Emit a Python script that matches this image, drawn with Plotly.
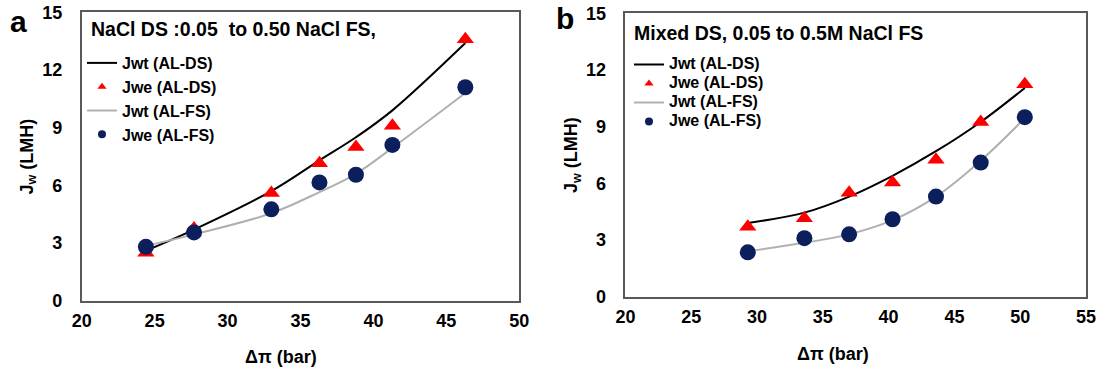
import plotly.graph_objects as go

# ---- data ----
# Panel a: NaCl DS
a_dpi = [24.4, 27.7, 33.0, 36.3, 38.8, 41.3, 46.3]
a_jwe_ds = [2.5, 3.75, 5.6, 7.15, 8.0, 9.1, 13.6]
a_jwe_fs = [2.8, 3.55, 4.75, 6.15, 6.55, 8.1, 11.1]
a_jwt_ds = [2.6, 3.7, 5.7, 7.3, 8.5, 9.9, 13.4]
a_jwt_fs = [2.85, 3.45, 4.55, 5.65, 6.6, 7.95, 10.8]

# Panel b: Mixed DS
b_dpi = [29.3, 33.6, 37.0, 40.3, 43.6, 47.0, 50.35]
b_jwe_ds = [3.7, 4.15, 5.5, 6.05, 7.25, 9.25, 11.25]
b_jwe_fs = [2.35, 3.1, 3.3, 4.1, 5.3, 7.1, 9.5]
b_jwt_ds = [3.9, 4.45, 5.3, 6.4, 7.7, 9.25, 11.05]
b_jwt_fs = [2.4, 2.85, 3.3, 4.05, 5.3, 7.2, 9.45]

names = ["Jwt (AL-DS)", "Jwe (AL-DS)", "Jwt (AL-FS)", "Jwe (AL-FS)"]
x_ticks_a = [20, 25, 30, 35, 40, 45, 50]
x_ticks_b = [20, 25, 30, 35, 40, 45, 50, 55]
y_ticks = [0, 3, 6, 9, 12, 15]

FONT = "Liberation Sans, Arial, sans-serif"
RED = "#ff0000"
NAVY = "#0b1f5c"
GRAY = "#b0b0b0"

fig = go.Figure()

def add_panel(xv, jwt_ds, jwe_ds, jwt_fs, jwe_fs, xa, ya, leg, label_fmt):
    lab = [label_fmt.format(n) for n in names]
    fig.add_trace(go.Scatter(x=xv, y=jwt_ds, mode="lines", name=lab[0],
                             line=dict(color="black", width=2, shape="spline"),
                             xaxis=xa, yaxis=ya, legend=leg, showlegend=True))
    fig.add_trace(go.Scatter(x=xv, y=jwe_ds, mode="markers", name=lab[1],
                             marker=dict(symbol="triangle-up", color=RED, size=15),
                             xaxis=xa, yaxis=ya, showlegend=False))
    fig.add_trace(go.Scatter(x=[None], y=[None], mode="markers", name=lab[1],
                             marker=dict(symbol="triangle-up", color=RED, size=8),
                             xaxis=xa, yaxis=ya, legend=leg, showlegend=True))
    fig.add_trace(go.Scatter(x=xv, y=jwt_fs, mode="lines", name=lab[2],
                             line=dict(color=GRAY, width=2, shape="spline"),
                             xaxis=xa, yaxis=ya, legend=leg, showlegend=True))
    fig.add_trace(go.Scatter(x=xv, y=jwe_fs, mode="markers", name=lab[3],
                             marker=dict(symbol="circle", color=NAVY, size=16),
                             xaxis=xa, yaxis=ya, showlegend=False))
    fig.add_trace(go.Scatter(x=[None], y=[None], mode="markers", name=lab[3],
                             marker=dict(symbol="circle", color=NAVY, size=8),
                             xaxis=xa, yaxis=ya, legend=leg, showlegend=True))

add_panel(a_dpi, a_jwt_ds, a_jwe_ds, a_jwt_fs, a_jwe_fs, "x", "y", "legend", "{}")
add_panel(b_dpi, b_jwt_ds, b_jwe_ds, b_jwt_fs, b_jwe_fs, "x2", "y2", "legend2",
          '<span style="font-size:16px">{}</span>')

W, H = 1108, 374
tickfont = dict(family=FONT, size=18, color="black", weight="bold")
axis_common = dict(showgrid=False, zeroline=False, showline=True, mirror=True,
                   linecolor="#595959", linewidth=1.5, ticks="", automargin=False,
                   tickfont=tickfont)

legend_common = dict(bgcolor="rgba(0,0,0,0)",
                     itemsizing="trace", tracegroupgap=0, xanchor="left", yanchor="top",
                     itemwidth=30, traceorder="normal")

fig.update_layout(
    template="none",
    width=W, height=H,
    margin=dict(l=0, r=0, t=0, b=0, pad=0),
    paper_bgcolor="white", plot_bgcolor="white",
    font=dict(family=FONT, color="black"),
    xaxis=dict(domain=[81.7 / W, 519.3 / W], range=[20, 50], tickvals=x_ticks_a,
               ticklabelstandoff=3, anchor="y", **axis_common),
    yaxis=dict(domain=[1 - 300.7 / H, 1 - 12.3 / H], range=[0, 15], tickvals=y_ticks,
               ticklabelstandoff=14, anchor="x", **axis_common),
    xaxis2=dict(domain=[625.4 / W, 1086 / W], range=[20, 55], tickvals=x_ticks_b,
                ticklabelstandoff=3, anchor="y2", **axis_common),
    yaxis2=dict(domain=[1 - 296.7 / H, 1 - 13.3 / H], range=[0, 15], tickvals=y_ticks,
                ticklabelstandoff=14, anchor="x2", **axis_common),
    legend=dict(x=82 / W, y=1 - 46 / H,
                font=dict(family=FONT, size=16, color="black", weight="bold"),
                **legend_common),
    legend2=dict(x=629 / W, y=1 - 50 / H,
                 font=dict(family=FONT, size=12.3, color="black", weight="bold"),
                 **legend_common),
)

ann_font = dict(family=FONT, size=19.5, color="black", weight="bold")
title_font = dict(family=FONT, size=18, color="black", weight="bold")
panel_font = dict(family=FONT, size=30, color="black", weight="bold")
anns = [
    dict(text="NaCl DS :0.05&nbsp; to 0.50 NaCl FS,", x=89 / W, y=1 - 29 / H,
         xanchor="left", yanchor="middle", font=ann_font),
    dict(text="Mixed DS, 0.05 to 0.5M NaCl FS", x=632 / W, y=1 - 33 / H,
         xanchor="left", yanchor="middle", font=ann_font),
    dict(text="Δπ (bar)", x=281 / W, y=1 - 357 / H, xanchor="center", yanchor="middle", font=title_font),
    dict(text="Δπ (bar)", x=833 / W, y=1 - 354 / H, xanchor="center", yanchor="middle", font=title_font),
    dict(text="J<sub>w</sub> (LMH)", x=27.5 / W, y=1 - 157 / H, textangle=-90,
         xanchor="center", yanchor="middle", font=title_font),
    dict(text="J<sub>w</sub> (LMH)", x=572 / W, y=1 - 155 / H, textangle=-90,
         xanchor="center", yanchor="middle", font=title_font),
    dict(text="a", x=18 / W, y=1 - 21 / H, xanchor="center", yanchor="middle", font=panel_font),
    dict(text="b", x=565 / W, y=1 - 19 / H, xanchor="center", yanchor="middle", font=panel_font),
]
for a in anns:
    a.update(xref="paper", yref="paper", showarrow=False)
fig.update_layout(annotations=anns)

fig.write_html("out.html")
